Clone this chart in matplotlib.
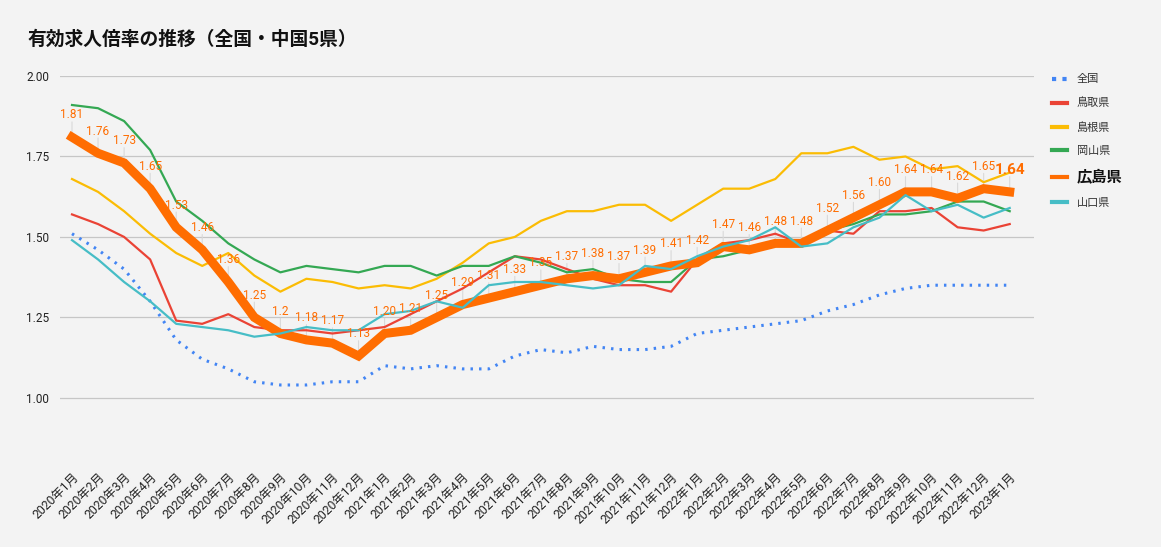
import matplotlib
matplotlib.use("Agg")
import matplotlib.pyplot as plt
from matplotlib.lines import Line2D

plt.rcParams['font.family'] = ['Roboto', 'Noto Sans CJK JP', 'DejaVu Sans']

# 月ラベル
months = [f"{y}年{m}月" for y in (2020, 2021, 2022) for m in range(1, 13)] + ["2023年1月"]

# 有効求人倍率
zenkoku = [1.51, 1.46, 1.40, 1.30, 1.18, 1.12, 1.09, 1.05, 1.04, 1.04, 1.05, 1.05,
           1.10, 1.09, 1.10, 1.09, 1.09, 1.13, 1.15, 1.14, 1.16, 1.15, 1.15, 1.16,
           1.20, 1.21, 1.22, 1.23, 1.24, 1.27, 1.29, 1.32, 1.34, 1.35, 1.35, 1.35, 1.35]
tottori = [1.57, 1.54, 1.50, 1.43, 1.24, 1.23, 1.26, 1.22, 1.21, 1.21, 1.20, 1.21,
           1.22, 1.26, 1.30, 1.34, 1.39, 1.44, 1.43, 1.40, 1.37, 1.35, 1.35, 1.33,
           1.43, 1.48, 1.49, 1.51, 1.48, 1.52, 1.51, 1.58, 1.58, 1.59, 1.53, 1.52, 1.54]
shimane = [1.68, 1.64, 1.58, 1.51, 1.45, 1.41, 1.45, 1.38, 1.33, 1.37, 1.36, 1.34,
           1.35, 1.34, 1.37, 1.42, 1.48, 1.50, 1.55, 1.58, 1.58, 1.60, 1.60, 1.55,
           1.60, 1.65, 1.65, 1.68, 1.76, 1.76, 1.78, 1.74, 1.75, 1.71, 1.72, 1.67, 1.70]
okayama = [1.91, 1.90, 1.86, 1.77, 1.61, 1.55, 1.48, 1.43, 1.39, 1.41, 1.40, 1.39,
           1.41, 1.41, 1.38, 1.41, 1.41, 1.44, 1.42, 1.39, 1.40, 1.37, 1.36, 1.36,
           1.43, 1.44, 1.46, 1.48, 1.49, 1.52, 1.54, 1.57, 1.57, 1.58, 1.61, 1.61, 1.58]
hiroshima = [1.81, 1.76, 1.73, 1.65, 1.53, 1.46, 1.36, 1.25, 1.20, 1.18, 1.17, 1.13,
             1.20, 1.21, 1.25, 1.29, 1.31, 1.33, 1.35, 1.37, 1.38, 1.37, 1.39, 1.41,
             1.42, 1.47, 1.46, 1.48, 1.48, 1.52, 1.56, 1.60, 1.64, 1.64, 1.62, 1.65, 1.64]
yamaguchi = [1.49, 1.43, 1.36, 1.30, 1.23, 1.22, 1.21, 1.19, 1.20, 1.22, 1.21, 1.21,
             1.26, 1.27, 1.30, 1.28, 1.35, 1.36, 1.36, 1.35, 1.34, 1.35, 1.41, 1.40,
             1.44, 1.47, 1.49, 1.53, 1.47, 1.48, 1.53, 1.56, 1.63, 1.58, 1.60, 1.56, 1.59]
# 広島県のデータラベル（元グラフの表記どおり）
hiroshima_labels = ["1.81", "1.76", "1.73", "1.65", "1.53", "1.46", "1.36", "1.25", "1.2",
                    "1.18", "1.17", "1.13", "1.20", "1.21", "1.25", "1.29", "1.31", "1.33",
                    "1.35", "1.37", "1.38", "1.37", "1.39", "1.41", "1.42", "1.47", "1.46",
                    "1.48", "1.48", "1.52", "1.56", "1.60", "1.64", "1.64", "1.62", "1.65", "1.64"]

BG = "#f3f3f3"
ORANGE = "#ff6d01"

fig = plt.figure(figsize=(11.61, 5.47), dpi=100, facecolor=BG)
ax = fig.add_axes([0.0517, 0.155, 0.8393, 0.706], facecolor=BG)

x = list(range(len(months)))
ax.plot(x, zenkoku, color="#4285f4", lw=2.2, linestyle=(0, (0.8, 2.0)), label="全国", zorder=3)
ax.plot(x, tottori, color="#ea4335", lw=1.6, label="鳥取県", zorder=3)
ax.plot(x, shimane, color="#fbbc04", lw=1.6, label="島根県", zorder=3)
ax.plot(x, okayama, color="#34a853", lw=1.6, label="岡山県", zorder=3)
ax.plot(x, hiroshima, color=ORANGE, lw=6.5, solid_joinstyle="miter", label="広島県", zorder=3)
ax.plot(x, yamaguchi, color="#46bdc6", lw=1.6, label="山口県", zorder=3)

# データラベル（引き出し線は線の下、文字は上）
for i, (v, t) in enumerate(zip(hiroshima, hiroshima_labels)):
    last = i == len(hiroshima) - 1
    ax.annotate("", (i, v), xytext=(0, 11), textcoords="offset points",
                arrowprops=dict(arrowstyle="-", color="#d9d9d9", lw=0.8,
                                shrinkA=0, shrinkB=0), zorder=1)
    ax.annotate(t, (i, v), xytext=(0, 16), textcoords="offset points",
                ha="center", va="center", color=ORANGE,
                fontsize=11 if last else 8.5, fontweight="bold" if last else "normal",
                zorder=5)

ax.set_xlim(-0.46, 36.95)
ax.set_ylim(0.80, 2.00)
ax.set_yticks([1.00, 1.25, 1.50, 1.75, 2.00])
ax.set_yticklabels([f"{t:.2f}" for t in [1.00, 1.25, 1.50, 1.75, 2.00]])
ax.set_xticks(x)
ax.set_xticklabels(months, rotation=45, ha="right", rotation_mode="anchor")
ax.tick_params(axis="both", length=0, labelsize=8.5, colors="#222222")
ax.tick_params(axis="x", labelsize=8.8, pad=6)
ax.tick_params(axis="y", pad=8)
ax.grid(axis="y", color="#c6c6c6", lw=0.9, zorder=0)
ax.set_axisbelow(True)
for s in ax.spines.values():
    s.set_visible(False)

handles = [Line2D([], [], color="#4285f4", lw=3, linestyle=(0, (1, 1.5))),
           Line2D([], [], color="#ea4335", lw=3),
           Line2D([], [], color="#fbbc04", lw=3),
           Line2D([], [], color="#34a853", lw=3),
           Line2D([], [], color=ORANGE, lw=3),
           Line2D([], [], color="#46bdc6", lw=3)]
leg = ax.legend(handles, ["全国", "鳥取県", "島根県", "岡山県", "広島県", "山口県"],
                loc="upper left", bbox_to_anchor=(1.008, 1.03), frameon=False,
                fontsize=8, handlelength=1.3, handletextpad=0.9, labelspacing=1.2)
for t in leg.get_texts():
    t.set_color("#333333")
leg.get_texts()[4].set_fontweight("bold")
leg.get_texts()[4].set_fontsize(11)
leg.get_texts()[4].set_color("#111111")

fig.text(0.024, 0.927, "有効求人倍率の推移（全国・中国5県）", fontsize=13.5,
         fontweight="bold", ha="left", va="center", color="#111111")

fig.savefig("out.png", dpi=100, facecolor=BG)
